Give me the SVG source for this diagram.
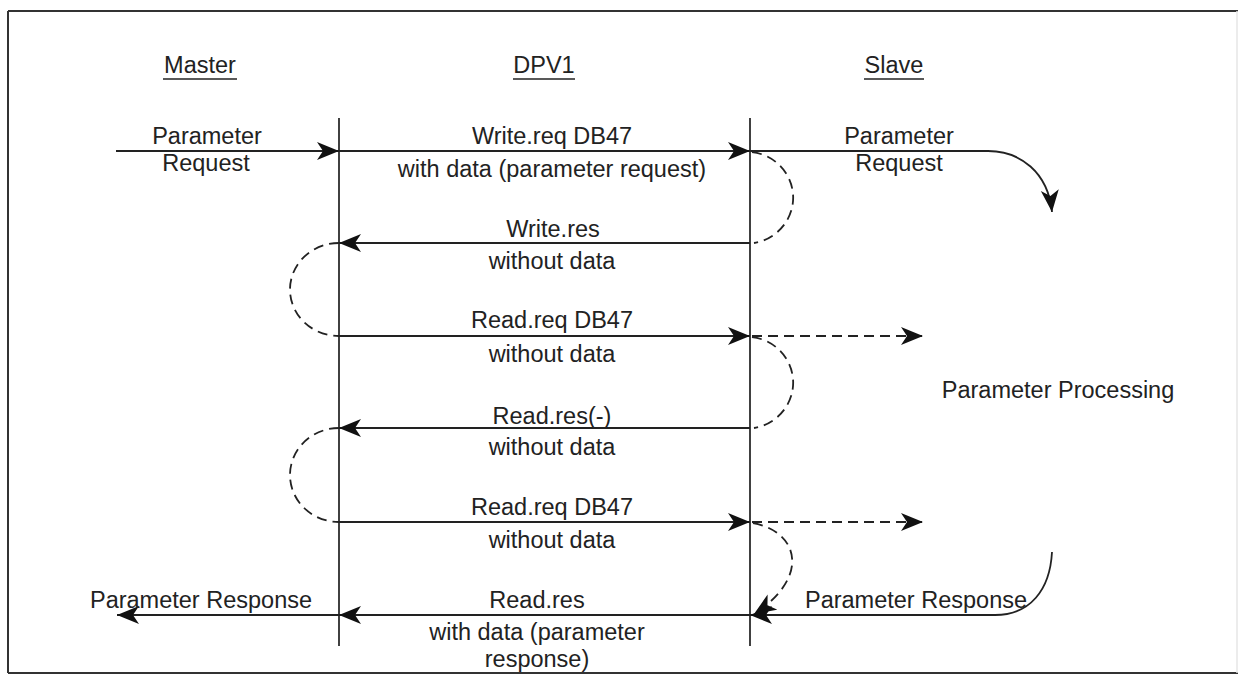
<svg xmlns="http://www.w3.org/2000/svg" width="1239" height="675" viewBox="0 0 1239 675">
<style>
text{font-family:"Liberation Sans",Arial,sans-serif;font-size:23.5px;fill:#222;text-anchor:middle}
.life{stroke:#111;stroke-width:1.6;fill:none}
.msg{stroke:#222;stroke-width:1.8;fill:none}
.dash{stroke:#222;stroke-width:1.8;fill:none;stroke-dasharray:10 6}
.ul{stroke:#222;stroke-width:1.6}
</style>
<defs>
<marker id="ah" markerUnits="userSpaceOnUse" markerWidth="24" markerHeight="20" refX="22" refY="9" orient="auto" viewBox="0 0 24 20">
<path d="M0,0 L22,9 L0,18 L6,9 Z" fill="#111"/>
</marker>
</defs>
<rect x="0" y="0" width="1239" height="675" fill="#fff"/>

<g id="master">
<text x="200" y="73">Master</text>
<line class="ul" x1="163" y1="79" x2="237" y2="79"/>
<line class="life" x1="339" y1="118" x2="339" y2="646"/>
</g>
<g id="dpv1">
<text x="544" y="73">DPV1</text>
<line class="ul" x1="513" y1="79" x2="575" y2="79"/>
</g>
<g id="slave">
<text x="894" y="73">Slave</text>
<line class="ul" x1="864" y1="79" x2="924" y2="79"/>
<line class="life" x1="750" y1="118" x2="750" y2="646"/>
</g>

<g id="connectors">
<line class="msg" x1="116" y1="151" x2="339" y2="151" marker-end="url(#ah)"/>
<line class="msg" x1="339" y1="151" x2="750" y2="151" marker-end="url(#ah)"/>
<path class="msg" d="M750,151 L988,151 C1020,151 1048,172 1052,212" marker-end="url(#ah)"/>
<path class="dash" d="M752,152 A47,46 0 0 1 754,243"/>
<line class="msg" x1="750" y1="243" x2="339" y2="243" marker-end="url(#ah)"/>
<path class="dash" d="M339,243 A49,46.5 0 0 0 339,336"/>
<line class="msg" x1="339" y1="336" x2="750" y2="336" marker-end="url(#ah)"/>
<line class="dash" x1="752" y1="336" x2="923" y2="336" marker-end="url(#ah)"/>
<path class="dash" d="M752,337 A47,46 0 0 1 754,428"/>
<line class="msg" x1="750" y1="428" x2="339" y2="428" marker-end="url(#ah)"/>
<path class="dash" d="M339,428 A49,47 0 0 0 339,522"/>
<line class="msg" x1="339" y1="522" x2="750" y2="522" marker-end="url(#ah)"/>
<line class="dash" x1="752" y1="522" x2="923" y2="522" marker-end="url(#ah)"/>
<path class="dash" d="M753,523 C800,532 810,578 754,614" marker-end="url(#ah)"/>
<path class="msg" d="M1052,552 C1050,590 1030,615 995,615 L750,615" marker-end="url(#ah)"/>
<line class="msg" x1="750" y1="615" x2="339" y2="615" marker-end="url(#ah)"/>
<line class="msg" x1="339" y1="615" x2="117" y2="615" marker-end="url(#ah)"/>
</g>

<g id="labels">
<text x="207" y="144">Parameter</text>
<text x="206" y="171">Request</text>
<text x="552" y="144">Write.req DB47</text>
<text x="552" y="177">with data (parameter request)</text>
<text x="899" y="144">Parameter</text>
<text x="899" y="171">Request</text>
<text x="553" y="237">Write.res</text>
<text x="552" y="269">without data</text>
<text x="552" y="328">Read.req DB47</text>
<text x="552" y="362">without data</text>
<text x="1058" y="398">Parameter Processing</text>
<text x="552" y="424">Read.res(-)</text>
<text x="552" y="455">without data</text>
<text x="552" y="515">Read.req DB47</text>
<text x="552" y="548">without data</text>
<text x="201" y="608">Parameter Response</text>
<text x="537" y="608">Read.res</text>
<text x="916" y="608">Parameter Response</text>
<text x="537" y="640">with data (parameter</text>
<text x="537" y="667">response)</text>
</g>

<g id="frame">
<line x1="8" y1="11" x2="1238" y2="11" stroke="#333" stroke-width="2"/>
<line x1="8" y1="11" x2="8" y2="673" stroke="#333" stroke-width="2"/>
<line x1="8" y1="673" x2="1238" y2="673" stroke="#333" stroke-width="2"/>
<line x1="1237" y1="11" x2="1237" y2="673" stroke="#e6e6e6" stroke-width="1.5"/>
</g>
</svg>
